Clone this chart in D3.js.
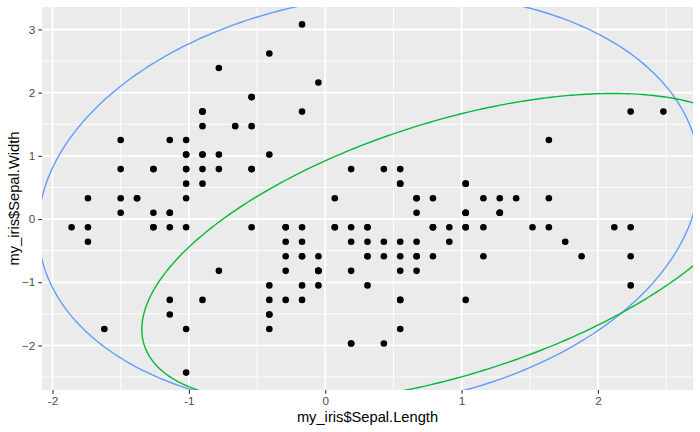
<!DOCTYPE html>
<html>
<head>
<meta charset="utf-8">
<script src="https://cdn.jsdelivr.net/npm/d3@7"></script>
<style>
  body { margin: 0; background: #ffffff; }
  text { font-family: "Liberation Sans", Arial, sans-serif; }
</style>
</head>
<body>
<div id="my_dataviz"></div>
<script>
// scaled iris values
var sepalLength = [
  -0.90,-1.14,-1.38,-1.50,-1.02,-0.54,-1.50,-1.02,-1.74,-1.14,
  -0.54,-1.26,-1.26,-1.86,-0.05,-0.17,-0.54,-0.90,-0.17,-0.90,
  -0.54,-0.90,-1.50,-0.90,-1.26,-1.02,-1.02,-0.78,-0.78,-1.38,
  -1.26,-0.54,-0.78,-0.41,-1.14,-1.02,-0.41,-1.14,-1.74,-0.90,
  -1.02,-1.62,-1.74,-1.02,-0.90,-1.26,-0.90,-1.50,-0.66,-1.02,
  1.40,0.67,1.28,-0.41,0.79,-0.17,0.55,-1.14,0.91,-0.78,
  -1.02,0.07,0.19,0.31,-0.29,1.03,-0.29,-0.05,0.43,-0.29,
  0.07,0.31,0.55,0.31,0.67,0.91,1.16,1.03,0.19,-0.17,
  -0.41,-0.41,-0.05,0.19,-0.54,0.19,1.03,0.55,-0.29,-0.41,
  -0.41,0.31,-0.05,-1.02,-0.29,-0.17,-0.17,0.43,-0.90,-0.17,
  0.55,-0.05,1.52,0.55,0.79,2.12,-1.14,1.76,1.03,1.64,
  0.79,0.67,1.16,-0.17,-0.05,0.67,0.79,2.24,2.24,0.19,
  1.28,-0.29,2.24,0.55,1.03,1.64,0.43,0.31,0.67,1.64,
  1.88,2.48,0.67,0.55,0.31,2.24,0.55,0.67,0.19,1.28,
  1.03,1.28,-0.05,1.16,1.03,1.03,0.55,0.79,0.43,0.07
];
var sepalWidth = [
  1.02,-0.13,0.33,0.10,1.25,1.93,0.79,0.79,-0.36,0.10,
  1.47,0.79,-0.13,-0.13,2.16,3.08,1.93,1.02,1.70,1.70,
  0.79,1.47,1.25,0.56,0.79,-0.13,0.79,1.02,0.79,0.33,
  0.10,0.79,2.39,2.62,0.10,0.33,1.02,1.25,-0.13,0.79,
  1.02,-1.74,0.33,1.02,1.70,-0.13,1.70,0.33,1.47,0.56,
  0.33,0.33,0.10,-1.74,-0.59,-0.59,0.56,-1.51,-0.36,-0.82,
  -2.43,-0.13,-1.97,-0.36,-0.36,0.10,-0.13,-0.82,-1.97,-1.28,
  0.33,-0.59,-1.28,-0.59,-0.36,-0.13,-0.59,-0.13,-0.36,-1.05,
  -1.51,-1.51,-0.82,-0.82,-0.13,0.79,0.10,-1.74,-0.13,-1.28,
  -1.05,-0.13,-1.05,-1.74,-0.82,-0.13,-0.36,-0.36,-1.28,-0.59,
  0.56,-0.82,-0.13,-0.36,-0.13,-0.13,-1.28,-0.36,-1.28,1.25,
  0.33,-0.82,-0.13,-1.28,-0.59,0.33,-0.13,1.70,-1.05,-1.97,
  0.33,-0.59,-0.59,-0.82,0.56,0.33,-0.59,-0.13,-0.59,-0.13,
  -0.59,1.70,-0.59,-0.59,-1.05,-0.13,0.79,0.10,-0.13,0.10,
  0.10,0.10,-0.82,0.33,0.56,-0.13,-1.28,-0.13,0.79,-0.13
];

// ellipses: centre and shape matrix [xx, xy, yy]
var ellipseNames = ["blue", "green"];
var ellipseCenters = [[0.32, 0.28], [0.92, -0.46]];
var ellipseShapes = [[5.88, 1.06, 10.79], [5.13, 2.91, 5.99]];
var ellipseColors = ["#619CFF", "#00BA38"];

var xBreaks = [-2, -1, 0, 1, 2];
var yBreaks = [-2, -1, 0, 1, 2, 3];

var W = 700, H = 432;
var margin = { top: 7, right: 7, bottom: 42, left: 42 },
    width = W - margin.left - margin.right,
    height = H - margin.top - margin.bottom;

var svg = d3.select("#my_dataviz")
  .append("svg")
    .attr("width", W)
    .attr("height", H);

var g = svg.append("g")
    .attr("transform", "translate(" + margin.left + "," + margin.top + ")");

// ggplot style 5% expansion
function expand(ext) {
  var pad = (ext[1] - ext[0]) * 0.05;
  return [ext[0] - pad, ext[1] + pad];
}

var x = d3.scaleLinear()
    .domain(expand(d3.extent(sepalLength)))
    .range([0, width]);
var y = d3.scaleLinear()
    .domain(expand(d3.extent(sepalWidth)))
    .range([height, 0]);

// panel background
g.append("rect")
    .attr("width", width)
    .attr("height", height)
    .attr("fill", "#EBEBEB");

// minor grid
var xMinor = d3.range(-2.5, 3, 1).filter(function (v) { return v > x.domain()[0] && v < x.domain()[1]; });
var yMinor = d3.range(-2.5, 4, 1).filter(function (v) { return v > y.domain()[0] && v < y.domain()[1]; });

g.selectAll(".xminor").data(xMinor).enter().append("line")
    .attr("x1", function (d) { return x(d); }).attr("x2", function (d) { return x(d); })
    .attr("y1", 0).attr("y2", height)
    .attr("stroke", "#ffffff").attr("stroke-width", 0.9);
g.selectAll(".yminor").data(yMinor).enter().append("line")
    .attr("y1", function (d) { return y(d); }).attr("y2", function (d) { return y(d); })
    .attr("x1", 0).attr("x2", width)
    .attr("stroke", "#ffffff").attr("stroke-width", 0.9);

// major grid
g.selectAll(".xmajor").data(xBreaks).enter().append("line")
    .attr("x1", function (d) { return x(d); }).attr("x2", function (d) { return x(d); })
    .attr("y1", 0).attr("y2", height)
    .attr("stroke", "#ffffff").attr("stroke-width", 1.9);
g.selectAll(".ymajor").data(yBreaks).enter().append("line")
    .attr("y1", function (d) { return y(d); }).attr("y2", function (d) { return y(d); })
    .attr("x1", 0).attr("x2", width)
    .attr("stroke", "#ffffff").attr("stroke-width", 1.9);

// points
g.selectAll(".dot")
  .data(sepalLength)
  .enter()
  .append("circle")
    .attr("cx", function (d) { return x(d); })
    .attr("cy", function (d, i) { return y(sepalWidth[i]); })
    .attr("r", 3.3)
    .attr("fill", "#000000");

// ellipses, clipped to the panel
svg.append("clipPath").attr("id", "panelClip")
  .append("rect").attr("width", width).attr("height", height);

var line = d3.line()
    .x(function (d) { return x(d[0]); })
    .y(function (d) { return y(d[1]); });

function ellipsePoints(c, s) {
  var a = Math.sqrt(s[0]);
  var b = s[1] / a;
  var e = Math.sqrt(s[2] - b * b);
  return d3.range(0, 361).map(function (k) {
    var t = k * Math.PI / 180;
    return [c[0] + a * Math.cos(t), c[1] + b * Math.cos(t) + e * Math.sin(t)];
  });
}

g.append("g")
    .attr("clip-path", "url(#panelClip)")
  .selectAll(".ellipse")
  .data(ellipseNames)
  .enter()
  .append("path")
    .attr("d", function (d, i) { return line(ellipsePoints(ellipseCenters[i], ellipseShapes[i])); })
    .attr("fill", "none")
    .attr("stroke", function (d, i) { return ellipseColors[i]; })
    .attr("stroke-width", 1.4);

// axes
var xAxis = g.append("g")
    .attr("transform", "translate(0," + height + ")")
    .call(d3.axisBottom(x).tickValues(xBreaks).tickSize(3.7).tickPadding(3).tickFormat(d3.format("d")));
var yAxis = g.append("g")
    .call(d3.axisLeft(y).tickValues(yBreaks).tickSize(3.7).tickPadding(3).tickFormat(d3.format("d")));

[xAxis, yAxis].forEach(function (ax) {
  ax.select(".domain").remove();
  ax.selectAll(".tick line").attr("stroke", "#333333").attr("stroke-width", 1.1);
  ax.selectAll(".tick text")
    .attr("fill", "#4D4D4D")
    .style("font-size", "11.7px")
    .style("font-family", "'Liberation Sans', Arial, sans-serif");
});
// replace hyphen with minus like R
xAxis.selectAll(".tick text").text(function (d) { return d < 0 ? "-" + Math.abs(d) : d; });

// axis titles
svg.append("text")
    .attr("x", margin.left + width / 2)
    .attr("y", 422)
    .attr("text-anchor", "middle")
    .style("font-size", "14.7px")
    .attr("fill", "#000000")
    .text("my_iris$Sepal.Length");

svg.append("text")
    .attr("transform", "translate(19," + (margin.top + height / 2) + ") rotate(-90)")
    .attr("text-anchor", "middle")
    .style("font-size", "14.7px")
    .attr("fill", "#000000")
    .text("my_iris$Sepal.Width");
</script>
</body>
</html>
